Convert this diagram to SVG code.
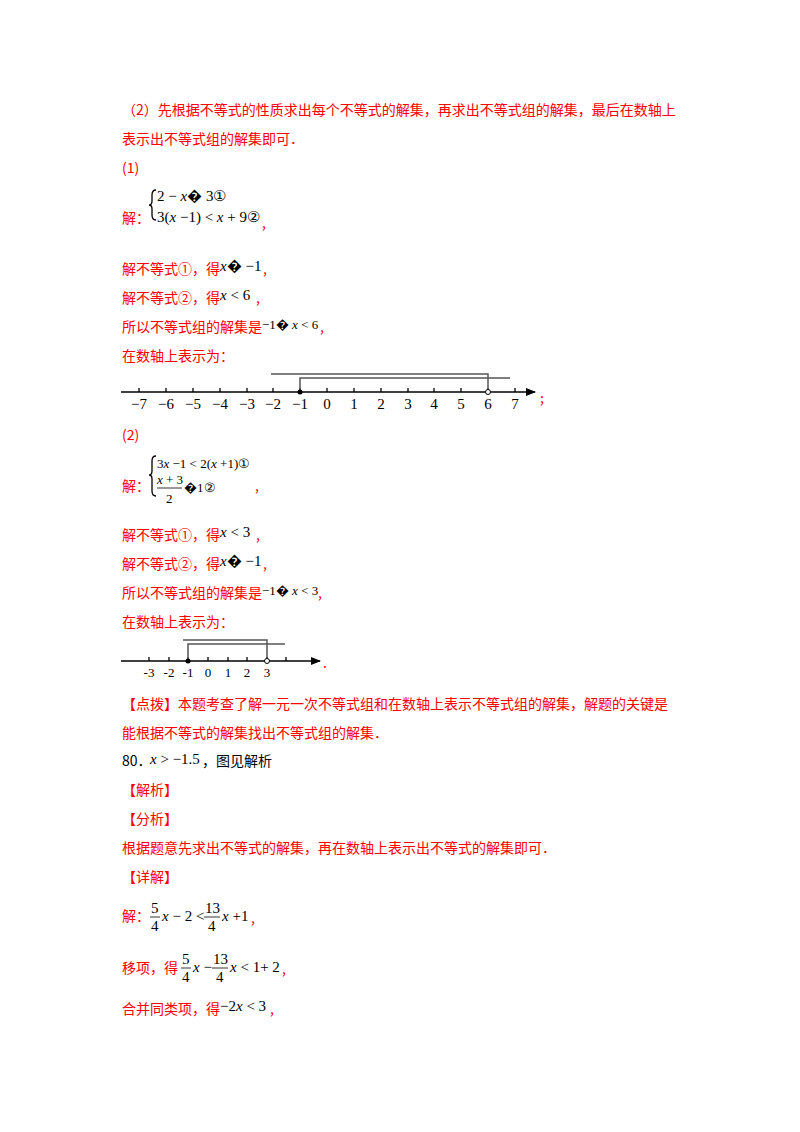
<svg xmlns="http://www.w3.org/2000/svg" width="800" height="1132" viewBox="0 0 800 1132">
<style>
.t{font-family:"Noto Sans CJK SC","Liberation Sans",sans-serif;font-size:14px;fill:#ff0000}
.m{font-family:"Liberation Serif",serif;font-size:15px;fill:#000}
.i{font-style:italic}
.s{font-family:"Liberation Serif",serif;font-size:13px;fill:#000}
.ax{stroke:#000;stroke-width:1.3;fill:none}
.br{stroke:#555;stroke-width:1.5;fill:none}
</style>
<defs><marker id="ar" markerWidth="10" markerHeight="8" refX="9" refY="4" orient="auto" markerUnits="userSpaceOnUse"><path d="M0,0 L10,4 L0,8 Z" fill="#000"/></marker></defs>
<rect width="800" height="1132" fill="#fff"/>
<text class="t" x="122" y="115">（2）先根据不等式的性质求出每个不等式的解集，再求出不等式组的解集，最后在数轴上</text>
<text class="t" x="122" y="144">表示出不等式组的解集即可．</text>
<text class="t" x="122" y="173">(1)</text>
<path d="M156,190 q-4,0 -4,5 v6 q0,4 -3,4 q3,0 3,4 v6 q0,5 4,5" class="ax" stroke-width="1"/>
<text class="m" x="157" y="201">2 − <tspan class="i">x</tspan>� 3①</text>
<text class="m" x="157" y="222">3(<tspan class="i">x</tspan> −1) &lt; <tspan class="i">x</tspan> + 9②</text>
<text class="t" x="122" y="223">解：</text><text class="t" x="262" y="228">,</text>
<text class="t" x="122" y="274">解不等式①，得</text><text class="m" x="220" y="271"><tspan class="i">x</tspan>� −1</text><text class="t" x="263" y="274">,</text>
<text class="t" x="122" y="303">解不等式②，得</text><text class="m" x="220" y="300"><tspan class="i">x</tspan> &lt; 6</text><text class="t" x="256" y="303">,</text>
<text class="t" x="122" y="332">所以不等式组的解集是</text><text class="s" x="262" y="329">−1� <tspan class="i">x</tspan> &lt; 6</text><text class="t" x="320" y="332">,</text>
<text class="t" x="122" y="361">在数轴上表示为：</text>
<g id="numberline1">
<line x1="121" y1="392" x2="535" y2="392" class="ax" marker-end="url(#ar)"/>
<path d="M139,388v4M166,388v4M193,388v4M220,388v4M247,388v4M273,388v4M300,388v4M327,388v4M354,388v4M381,388v4M408,388v4M434,388v4M461,388v4M488,388v4M515,388v4" class="ax"/>
<path d="M271,374H488V392" class="br"/>
<path d="M300,392V378H510" class="br"/>
<circle cx="300" cy="392" r="2.5" fill="#000"/>
<circle cx="488" cy="392" r="2.5" fill="#fff" stroke="#000"/>
<g class="m" font-size="14" text-anchor="middle">
<text x="139" y="409">−7</text><text x="166" y="409">−6</text><text x="193" y="409">−5</text><text x="220" y="409">−4</text><text x="247" y="409">−3</text><text x="273" y="409">−2</text><text x="300" y="409">−1</text><text x="327" y="409">0</text><text x="354" y="409">1</text><text x="381" y="409">2</text><text x="408" y="409">3</text><text x="434" y="409">4</text><text x="461" y="409">5</text><text x="488" y="409">6</text><text x="515" y="409">7</text>
</g>
<text class="t" x="540" y="403">;</text>
</g>
<text class="t" x="122" y="440">(2)</text>
<path d="M156,456 q-4,0 -4,5 v10 q0,4 -3,4 q3,0 3,4 v12 q0,5 4,5" class="ax" stroke-width="1"/>
<text class="s" x="157" y="468">3<tspan class="i">x</tspan> −1 &lt; 2(<tspan class="i">x</tspan> +1)①</text>
<text class="s" x="157" y="484"><tspan class="i">x</tspan> + 3</text>
<line x1="157" y1="488" x2="182" y2="488" stroke="#000" stroke-width="0.8"/>
<text class="s" x="166" y="503">2</text>
<text class="s" x="184" y="492" font-size="11">�1②</text>
<text class="t" x="122" y="491">解：</text><text class="t" x="255" y="491">,</text>
<text class="t" x="122" y="540">解不等式①，得</text><text class="m" x="220" y="537"><tspan class="i">x</tspan> &lt; 3</text><text class="t" x="256" y="540">,</text>
<text class="t" x="122" y="569">解不等式②，得</text><text class="m" x="220" y="566"><tspan class="i">x</tspan>� −1</text><text class="t" x="263" y="569">,</text>
<text class="t" x="122" y="598">所以不等式组的解集是</text><text class="s" x="262" y="595" font-size="12">−1� <tspan class="i">x</tspan> &lt; 3</text><text class="t" x="318" y="598">,</text>
<text class="t" x="122" y="627">在数轴上表示为：</text>
<g id="numberline2">
<line x1="121" y1="661" x2="320" y2="661" class="ax" marker-end="url(#ar)"/>
<path d="M149,657v4M169,657v4M188,657v4M208,657v4M228,657v4M247,657v4M267,657v4M286,657v4" class="ax"/>
<path d="M183,640H267V661" class="br"/>
<path d="M188,661V644H285" class="br"/>
<circle cx="188" cy="661" r="2.5" fill="#000"/>
<circle cx="267" cy="661" r="2.5" fill="#fff" stroke="#000"/>
<g class="s" text-anchor="middle">
<text x="149" y="677">-3</text><text x="169" y="677">-2</text><text x="188" y="677">-1</text><text x="208" y="677">0</text><text x="228" y="677">1</text><text x="247" y="677">2</text><text x="267" y="677">3</text>
</g>
<text class="t" x="323" y="668">.</text>
</g>
<text class="t" x="122" y="709">【点拨】本题考查了解一元一次不等式组和在数轴上表示不等式组的解集，解题的关键是</text>
<text class="t" x="122" y="738">能根据不等式的解集找出不等式组的解集．</text>
<text class="t" x="122" y="766" style="fill:#000">80．</text><text class="m" x="150" y="764"><tspan class="i">x</tspan> &gt; −1.5</text><text class="t" x="202" y="766" style="fill:#000">，图见解析</text>
<text class="t" x="122" y="795">【解析】</text>
<text class="t" x="122" y="824">【分析】</text>
<text class="t" x="122" y="853">根据题意先求出不等式的解集，再在数轴上表示出不等式的解集即可．</text>
<text class="t" x="122" y="882">【详解】</text>
<text class="t" x="122" y="921">解：</text>
<g class="m"><text x="151" y="913">5</text><line x1="150" y1="917" x2="160" y2="917" stroke="#000" stroke-width="0.8"/><text x="151" y="931">4</text>
<text x="162" y="921"><tspan class="i">x</tspan> − 2 &lt;</text>
<text x="205" y="913">13</text><line x1="204" y1="917" x2="220" y2="917" stroke="#000" stroke-width="0.8"/><text x="208" y="931">4</text>
<text x="222" y="921"><tspan class="i">x</tspan> +1</text></g>
<text class="t" x="251" y="923">,</text>
<text class="t" x="122" y="973">移项，得</text>
<g class="m"><text x="182" y="964">5</text><line x1="181" y1="968" x2="191" y2="968" stroke="#000" stroke-width="0.8"/><text x="182" y="982">4</text>
<text x="193" y="972"><tspan class="i">x</tspan> −</text>
<text x="213" y="964">13</text><line x1="212" y1="968" x2="228" y2="968" stroke="#000" stroke-width="0.8"/><text x="216" y="982">4</text>
<text x="230" y="972"><tspan class="i">x</tspan> &lt; 1+ 2</text></g>
<text class="t" x="282" y="974">,</text>
<text class="t" x="122" y="1014">合并同类项，得</text><text class="m" x="220" y="1011">−2<tspan class="i">x</tspan> &lt; 3</text><text class="t" x="270" y="1014">,</text>
</svg>
